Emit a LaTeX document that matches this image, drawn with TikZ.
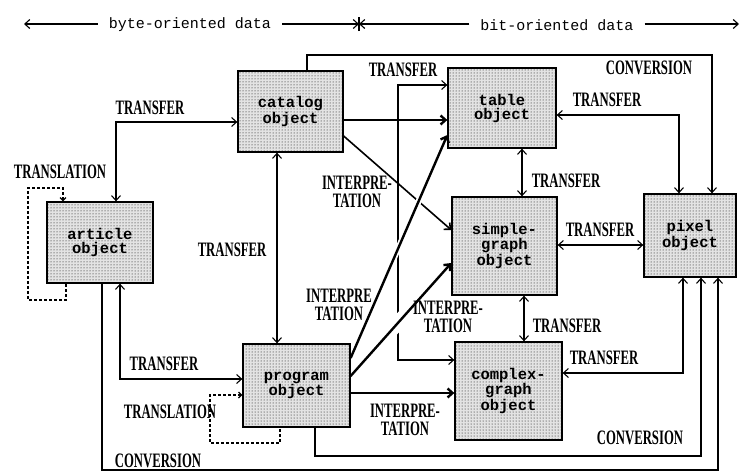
\documentclass[tikz,border=0pt]{standalone}
\usepackage{fontspec}
\newfontfamily\lblfont[FakeStretch=0.62]{Liberation Serif Bold}
\newfontfamily\boxfont{Liberation Mono Bold}
\newfontfamily\hdrfont{Liberation Mono}
\usetikzlibrary{arrows.meta,patterns,calc}

\begin{document}
\begin{tikzpicture}[x=1pt,y=-1pt,
  >={Straight Barb[length=5pt,width=9pt]},
  objbox/.style={draw, line width=1.3pt, preaction={fill=gray!22},
    pattern=dots, pattern color=black,
    inner sep=0pt, align=center, font=\boxfont\fontsize{15.5}{14}\selectfont},
  hdr/.style={inner xsep=11pt, inner ysep=0pt, font=\hdrfont\fontsize{15}{14}\selectfont},
  lbl/.style={inner sep=0pt, align=center, font=\lblfont\fontsize{20.5}{18}\selectfont},
  conn/.style={line width=1.1pt},
  midline/.style={line width=1.6pt},
  heavy/.style={line width=2.4pt},
  loopline/.style={line width=1.2pt, dash pattern=on 3pt off 2pt,
    >={Straight Barb[length=3pt,width=6pt]}},
  cut/.style={draw=white}
]
\useasboundingbox (0,0) rectangle (740,472);

% object boxes
\node[objbox, minimum width=105pt, minimum height=81pt] (catalog) at (290.5,111.5) {catalog\\object};
\node[objbox, minimum width=106pt, minimum height=81pt] (article) at (100,242.5) {article\\object};
\node[objbox, minimum width=108pt, minimum height=80pt] (table) at (502,108) {table\\object};
\node[objbox, minimum width=105pt, minimum height=98pt] (simple) at (504.5,246) {simple-\\graph\\object};
\node[objbox, minimum width=92pt, minimum height=83pt] (pixel) at (690,235.5) {pixel\\object};
\node[objbox, minimum width=107pt, minimum height=98pt] (complex) at (508.5,391) {complex-\\graph\\object};
\node[objbox, minimum width=107pt, minimum height=83pt] (program) at (296.5,385.5) {program\\object};

% header: byte-oriented / bit-oriented ranges
\node[hdr] (byte) at (190,25) {byte-oriented data};
\node[hdr] (bit) at (557,25) {bit-oriented data};
\coordinate (split) at (359,24);
\coordinate (lend) at (24,24);
\coordinate (rend) at (739,24);
\draw[conn,->] (byte.west |- split) -- (lend);
\draw[conn,->] (byte.east |- split) -- (split);
\draw[conn,->] (bit.west |- split) -- (split);
\draw[conn,->] (bit.east |- split) -- (rend);
\draw[conn] ([yshift=-7pt]split) -- ([yshift=7pt]split);

% thin connectors
\draw[conn,<->] (catalog.west |- 0,122) -| (116,0 |- article.north);
\draw[conn,<->] (277,0 |- catalog.south) -- (277,0 |- program.north);
\draw[conn,<->] (120,0 |- article.south) |- (program.west |- 0,379);
\draw[conn,->] (307,0 |- catalog.north) |- (712,55) -- (712,0 |- pixel.north);
\draw[conn,->] (315,0 |- program.south) |- (701,456) -- (701,0 |- pixel.south);
\draw[conn,->] (102,0 |- article.south) |- (718,470) -- (718,0 |- pixel.south);
\draw[conn,<->] (table.west |- 0,85) -| (398,360) -- (complex.west |- 0,360);
\draw[conn,<->] (table.east |- 0,115) -| (679,0 |- pixel.north);
\draw[conn,<->] (complex.east |- 0,373) -| (683,0 |- pixel.south);
\draw[conn,<->] (522,0 |- table.south) -- (522,0 |- simple.north);
\draw[conn,<->] (524,0 |- simple.south) -- (524,0 |- complex.north);
\draw[conn,<->] (simple.east |- 0,245) -- (pixel.west |- 0,245);
\draw[midline,->] (catalog.east |- 0,136) -- (simple.west |- 0,230);

% translation loops
\draw[loopline,<-] (63,0 |- article.north) |- (28,188) |- (66,300) -- (66,0 |- article.south);
\draw[loopline,<-] (program.west |- 0,395) -| (210,443) -| (280,0 |- program.south);

% interpretation lines from the program object, cutting the lines they cross
\path (program.east |- 0,358) coordinate (pA) (table.west |- 0,135) coordinate (tA);
\path (program.east |- 0,376) coordinate (pB) (simple.west |- 0,263) coordinate (sB);
\draw[cut, line width=6pt] ($(pA)!0.2!(tA)$) -- ($(pA)!0.85!(tA)$);
\draw[cut, line width=14pt] ($(pB)!0.3!(sB)$) -- ($(pB)!0.65!(sB)$);
\draw[heavy,->] (catalog.east |- 0,120) -- (table.west |- 0,120);
\draw[heavy,->] (pA) -- (tA);
\draw[heavy,->] (pB) -- (sB);
\draw[heavy,->] (program.east |- 0,393) -- (complex.west |- 0,393);

% labels
\node[lbl] (t1) at (150,108) {TRANSFER};
\node[lbl] (t2) at (60,172) {TRANSLATION};
\node[lbl] (t3) at (232,250) {TRANSFER};
\node[lbl] (t4) at (649,68) {CONVERSION};
\node[lbl] (t5) at (403,70) {TRANSFER};
\node[lbl] (t6) at (357,192) {INTERPRE-\\TATION};
\node[lbl] (t7) at (607,100) {TRANSFER};
\node[lbl] (t8) at (566,181) {TRANSFER};
\node[lbl] (t9) at (600,230) {TRANSFER};
\node[lbl] (t10) at (339,305) {INTERPRE\\TATION};
\node[lbl] (t11) at (448,317) {INTERPRE-\\TATION};
\node[lbl] (t12) at (567,326) {TRANSFER};
\node[lbl] (t13) at (604,358) {TRANSFER};
\node[lbl] (t14) at (164,364) {TRANSFER};
\node[lbl] (t15) at (170,412) {TRANSLATION};
\node[lbl] (t16) at (405,420) {INTERPRE-\\TATION};
\node[lbl] (t17) at (640,438) {CONVERSION};
\node[lbl] (t18) at (158,461) {CONVERSION};
\end{tikzpicture}
\end{document}
